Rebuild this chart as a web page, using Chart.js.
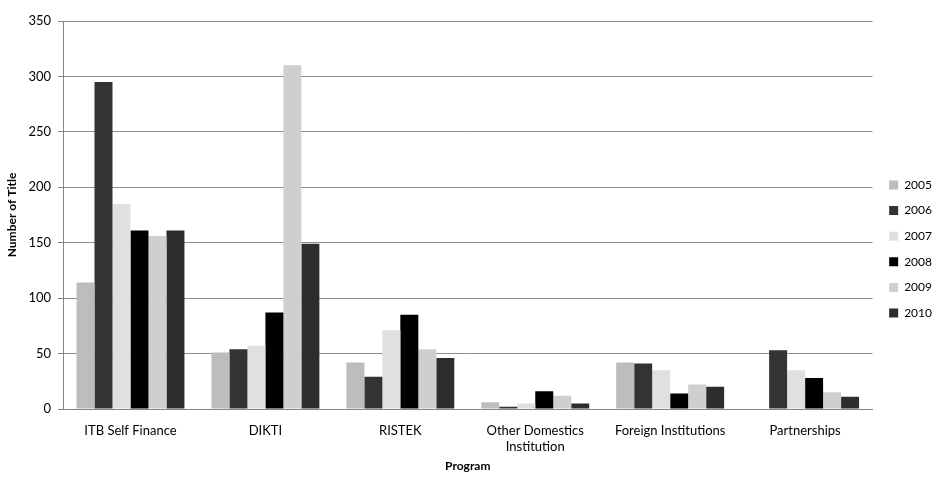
<!DOCTYPE html>
<html>
<head>
<meta charset="utf-8">
<script src="https://cdn.jsdelivr.net/npm/chart.js@4/dist/chart.umd.min.js"></script>
<style>
html,body{margin:0;padding:0;background:#fff;}
#wrap{width:937px;height:477px;position:relative;}
</style>
</head>
<body>
<div id="wrap"><canvas id="c" width="937" height="477"></canvas></div>
<script>
const categories = ["ITB Self Finance", "DIKTI", "RISTEK", ["Other Domestics", "Institution"], "Foreign Institutions", "Partnerships"];
const years = ["2005", "2006", "2007", "2008", "2009", "2010"];
const v2005 = [114, 51, 42, 6, 42, 0];
const v2006 = [295, 54, 29, 2, 41, 53];
const v2007 = [185, 57, 71, 5, 35, 35];
const v2008 = [161, 87, 85, 16, 14, 28];
const v2009 = [156, 310, 54, 12, 22, 15];
const v2010 = [161, 149, 46, 5, 20, 11];
const yTicks = [0, 50, 100, 150, 200, 250, 300, 350];
const colors = ["#bdbdbd", "#333333", "#e0e0e0", "#000000", "#cfcfcf", "#2d2d2d"];
const series = [v2005, v2006, v2007, v2008, v2009, v2010];

const FONT = "Lato, 'Open Sans', sans-serif";
Chart.defaults.font.family = FONT;
Chart.defaults.color = '#000';

const legendShift = {
  id: 'legendShift',
  beforeLayout(chart) {
    const lg = chart.legend;
    if (lg && !lg._patched) {
      const f = lg.fit.bind(lg);
      lg.fit = function () { f(); this.width -= 2; };
      lg._patched = true;
    }
  },
  afterLayout(chart) {
    const lg = chart.legend;
    if (lg) { lg.left += 3; lg.right += 3; lg.top += 2; lg.bottom += 2; }
  }
};

new Chart(document.getElementById('c'), {
  type: 'bar',
  data: {
    labels: categories,
    datasets: series.map((d, i) => ({
      label: years[i],
      data: d,
      backgroundColor: colors[i],
      borderWidth: 0,
      categoryPercentage: 0.8,
      barPercentage: 1.0
    }))
  },
  options: {
    responsive: false,
    animation: false,
    devicePixelRatio: 1,
    layout: { padding: { left: 1, right: 0, top: 21, bottom: 4 } },
    plugins: {
      legend: {
        position: 'right',
        align: 'center',
        labels: {
          boxWidth: 9,
          boxHeight: 9,
          padding: 13.6,
          font: { size: 12, family: FONT },
          color: '#000'
        }
      },
      tooltip: { enabled: false }
    },
    scales: {
      x: {
        grid: { display: false, drawTicks: false },
        border: { color: '#868686', width: 1 },
        ticks: { font: { size: 13, family: FONT }, color: '#000', padding: 14, maxRotation: 0, autoSkip: false },
        title: { display: true, text: 'Program', font: { size: 12, weight: 'bold', family: FONT }, color: '#000', padding: { top: 0, bottom: 0 } },
        afterFit: (scale) => { scale.height = 64; }
      },
      y: {
        min: 0, max: 350,
        afterBuildTicks: (axis) => { axis.ticks = yTicks.map(v => ({ value: v })); },
        grid: { color: '#8e8e8e', tickLength: 5, tickColor: '#868686' },
        border: { color: '#868686', width: 1 },
        ticks: { font: { size: 13, family: FONT }, color: '#000', padding: 7 },
        title: { display: true, text: 'Number of Title', font: { size: 12, weight: 'bold', family: FONT }, color: '#000', padding: { bottom: 2 } }
      }
    }
  },
  plugins: [legendShift]
});
</script>
</body>
</html>
